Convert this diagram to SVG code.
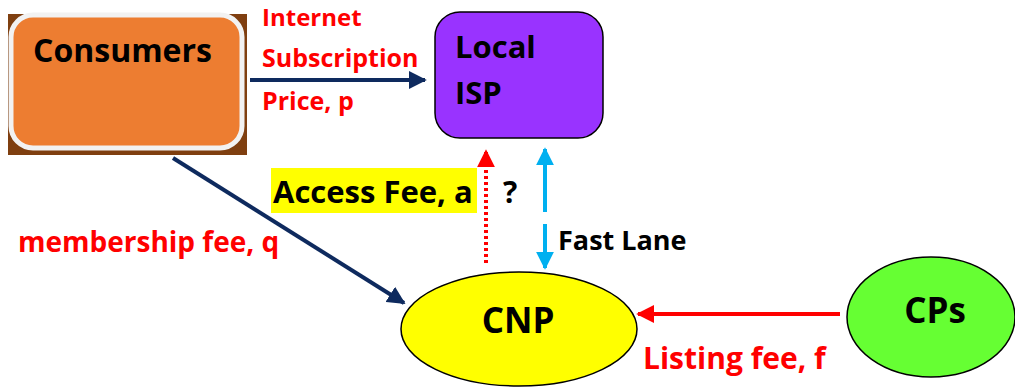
<svg xmlns="http://www.w3.org/2000/svg" width="1015" height="387" viewBox="0 0 1015 387">
<defs>
<style>
text{font-family:"Open Sans","Liberation Sans",sans-serif;font-weight:bold}
.lbl{fill:#FF0000}
.blk{fill:#000}
</style>
<marker id="navy" viewBox="0 0 10 10" refX="9" refY="5" markerWidth="4.5" markerHeight="4.5" orient="auto"><path d="M0,0 L10,5 L0,10 z" fill="#0E2A5E"/></marker>
<marker id="red" viewBox="0 0 10 10" refX="9" refY="5" markerWidth="4.5" markerHeight="4.5" orient="auto"><path d="M0,0 L10,5 L0,10 z" fill="#FF0000"/></marker>
<marker id="blue" viewBox="0 0 10 10" refX="9" refY="5" markerWidth="4.5" markerHeight="4.5" orient="auto-start-reverse"><path d="M0,0 L10,5 L0,10 z" fill="#00B0F0"/></marker>
</defs>
<rect width="1015" height="387" fill="#fff"/>
<g id="consumers">
<rect x="8" y="14" width="239" height="141" fill="#7F3F10"/>
<rect x="11" y="15" width="231" height="133" rx="22" fill="#ED7D31" stroke="#F2F2F2" stroke-width="5"/>
<text x="33" y="62" font-size="32" class="blk">Consumers</text>
</g>
<g id="isp">
<rect x="435" y="12" width="168" height="126" rx="25" fill="#9933FF" stroke="#000" stroke-width="1.5"/>
<text x="455" y="58" font-size="31" class="blk">Local</text>
<text x="455" y="104" font-size="31" class="blk">ISP</text>
</g>
<g id="cnp">
<ellipse cx="519" cy="329" rx="118" ry="57" fill="#FFFF00" stroke="#000" stroke-width="1.5"/>
<text x="518" y="333" font-size="35" text-anchor="middle" class="blk">CNP</text>
</g>
<g id="cps">
<ellipse cx="931" cy="317" rx="84" ry="60" fill="#66FF33" stroke="#000" stroke-width="1.5"/>
<text x="935" y="323" font-size="35" text-anchor="middle" class="blk">CPs</text>
</g>
<g id="connectors">
<line x1="250" y1="80" x2="425" y2="80" stroke="#0E2A5E" stroke-width="4" marker-end="url(#navy)"/>
<line x1="173" y1="158" x2="404" y2="303" stroke="#0E2A5E" stroke-width="4" marker-end="url(#navy)"/>
<line x1="486" y1="263" x2="486" y2="151" stroke="#FF0000" stroke-width="4" stroke-dasharray="3,3" marker-end="url(#red)"/>
<line x1="545" y1="149" x2="545" y2="212" stroke="#00B0F0" stroke-width="4" marker-start="url(#blue)"/>
<line x1="545" y1="224" x2="545" y2="268" stroke="#00B0F0" stroke-width="4" marker-end="url(#blue)"/>
<line x1="840" y1="314" x2="638" y2="314" stroke="#FF0000" stroke-width="4" marker-end="url(#red)"/>
</g>
<g id="labels">
<text x="262" y="26" font-size="24" class="lbl">Internet</text>
<text x="262" y="67" font-size="25" class="lbl">Subscription</text>
<text x="262" y="110" font-size="25" class="lbl">Price, p</text>
<text x="18" y="252" font-size="28" class="lbl">membership fee, q</text>
<rect x="271" y="168" width="206" height="45" fill="#FFFF00"/>
<text x="273" y="203" font-size="31" class="blk">Access Fee, a</text>
<text x="503" y="203" font-size="30" class="blk">?</text>
<text x="558" y="250" font-size="27" class="blk">Fast Lane</text>
<text x="643" y="369" font-size="30" class="lbl">Listing fee, f</text>
</g>
</svg>
